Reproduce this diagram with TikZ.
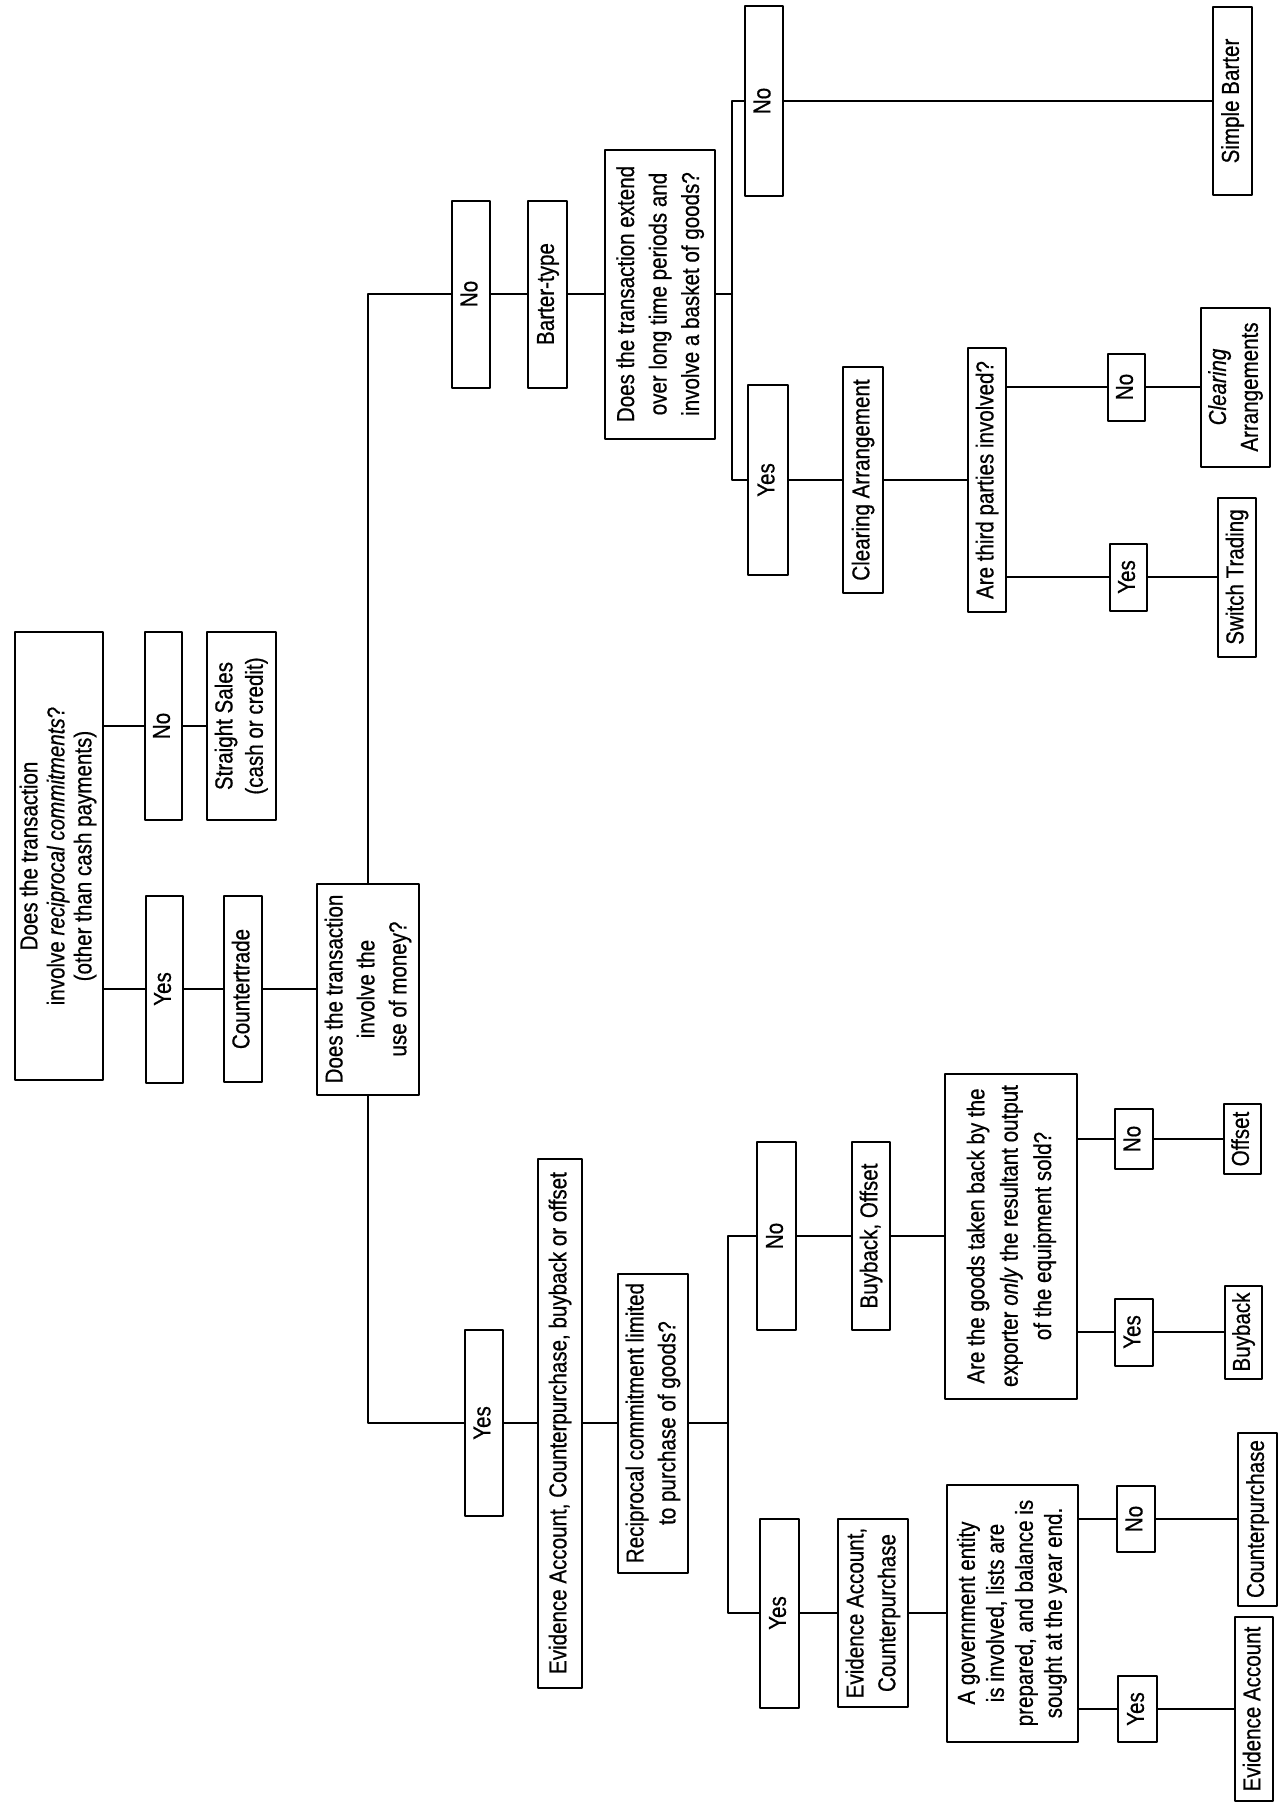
\documentclass[tikz,border=0pt]{standalone}
\usepackage{fontspec}
\setmainfont{Liberation Sans}[FakeStretch=0.84, FakeBold=0.6]
\usepackage{graphicx}
\newcommand{\vtext}[2][1.1]{\renewcommand{\arraystretch}{#1}\rotatebox{90}{\begin{tabular}{@{}c@{}}#2\end{tabular}}}
\begin{document}
\begin{tikzpicture}[x=1pt, y=-1pt, font=\fontsize{24.5}{29}\selectfont, line width=2pt, line join=round, line cap=round,
	box/.style 2 args={draw, inner sep=0pt, minimum width=#1, minimum height=#2}]
			\useasboundingbox (0,0) rectangle (1286,1807);
			% first question
			\node[box={88}{448}] (q1) at (59,856) {\vtext[0.93]{Does the transaction\\involve \textit{reciprocal commitments}?\\(other than cash payments)}};
			\node[box={37}{188}] (no1) at (163.5,726) {\vtext{No}};
			\node[box={69}{188}] (straight) at (241.5,726) {\vtext[1.05]{Straight Sales\\(cash or credit)}};
			\node[box={37}{187}] (yes1) at (164.5,989) {\vtext{Yes}};
			\node[box={38}{186}] (ctrade) at (243,989) {\vtext{Countertrade}};
			\node[box={102}{211}] (q2) at (368,989) {\vtext{Does the transaction\\involve the\\use of money?}};
			% barter side
			\node[box={38}{187}] (no2) at (471,294) {\vtext{No}};
			\node[box={39}{187}] (barter) at (547.5,294) {\vtext{Barter-type}};
			\node[box={110}{289}] (q3) at (660,294) {\vtext[1.12]{Does the transaction extend\\over long time periods and\\involve a basket of goods?}};
			\coordinate (br3) at (732,294);
			\node[box={38}{190}] (no3) at (764,101) {\vtext{No}};
			\node[box={39}{188}] (simple) at (1232.5,101) {\vtext{Simple Barter}};
			\node[box={40}{190}] (yes3) at (768,480) {\vtext{Yes}};
			\node[box={40}{226}] (clear) at (863,480) {\vtext{Clearing Arrangement}};
			\node[box={38}{264}] (q4) at (987,480) {\vtext{Are third parties involved?}};
			\node[box={37}{67}] (no4) at (1126.5,387) {\vtext{No}};
			\node[box={69}{159}] (clears) at (1235.5,387) {\vtext{\textit{Clearing}\\Arrangements}};
			\node[box={37}{67}] (yes4) at (1128.5,577) {\vtext{Yes}};
			\node[box={38}{159}] (switch) at (1237,577) {\vtext{Switch Trading}};
			% money side
			\node[box={38}{186}] (yes5) at (484,1423) {\vtext{Yes}};
			\node[box={44}{529}] (eacbo) at (560,1423) {\vtext{Evidence Account, Counterpurchase, buyback or offset}};
			\node[box={70}{299}] (q5) at (653,1423) {\vtext{Reciprocal commitment limited\\to purchase of goods?}};
			\coordinate (br5) at (728,1423);
			\node[box={39}{188}] (no5) at (776.5,1236) {\vtext{No}};
			\node[box={38}{188}] (bo) at (871,1236) {\vtext{Buyback, Offset}};
			\node[box={132}{325}] (q6) at (1011,1236) {\vtext[1.15]{Are the goods taken back by the\\exporter \textit{only} the resultant output\\of the equipment sold?}};
			\node[box={38}{60}] (no6) at (1134,1139) {\vtext{No}};
			\node[box={37}{70}] (offset) at (1242.5,1139) {\vtext{Offset}};
			\node[box={38}{67}] (yes6) at (1134,1332) {\vtext{Yes}};
			\node[box={37}{93}] (buyback) at (1243.5,1332) {\vtext{Buyback}};
			\node[box={39}{189}] (yes7) at (779.5,1613) {\vtext{Yes}};
			\node[box={70}{188}] (eac) at (873,1613) {\vtext{Evidence Account,\\Counterpurchase}};
			\node[box={131}{257}] (q7) at (1012.5,1613) {\vtext[1.0]{A government entity\\is involved, lists are\\prepared, and balance is\\sought at the year end.}};
			\node[box={38}{66}] (no7) at (1136,1519) {\vtext{No}};
			\node[box={39}{173}] (cp) at (1257.5,1519) {\vtext{Counterpurchase}};
			\node[box={39}{66}] (yes8) at (1137.5,1709) {\vtext{Yes}};
			\node[box={38}{184}] (ea) at (1254,1709) {\vtext{Evidence Account}};
			% connectors
			\draw (q1.east |- no1) -- (no1.west) (no1.east) -- (straight.west);
			\draw (q1.east |- yes1) -- (yes1.west) (yes1.east) -- (ctrade.west) (ctrade.east) -- (q2.west);
			\draw (q2.north) |- (no2.west);
			\draw (no2.east) -- (barter.west) (barter.east) -- (q3.west) (q3.east) -- (br3);
			\draw (no3.west) -| (br3) |- (yes3.west);
			\draw (no3.east) -- (simple.west) (yes3.east) -- (clear.west) (clear.east) -- (q4.west);
			\draw (q4.east |- no4) -- (no4.west) (no4.east) -- (clears.west);
			\draw (q4.east |- yes4) -- (yes4.west) (yes4.east) -- (switch.west);
			\draw (q2.south) |- (yes5.west);
			\draw (yes5.east) -- (eacbo.west) (eacbo.east) -- (q5.west) (q5.east) -- (br5);
			\draw (no5.west) -| (br5) |- (yes7.west);
			\draw (no5.east) -- (bo.west) (bo.east) -- (q6.west);
			\draw (q6.east |- no6) -- (no6.west) (no6.east) -- (offset.west);
			\draw (q6.east |- yes6) -- (yes6.west) (yes6.east) -- (buyback.west);
			\draw (yes7.east) -- (eac.west) (eac.east) -- (q7.west);
			\draw (q7.east |- no7) -- (no7.west) (no7.east) -- (cp.west);
			\draw (q7.east |- yes8) -- (yes8.west) (yes8.east) -- (ea.west);
	\end{tikzpicture}
\end{document}
